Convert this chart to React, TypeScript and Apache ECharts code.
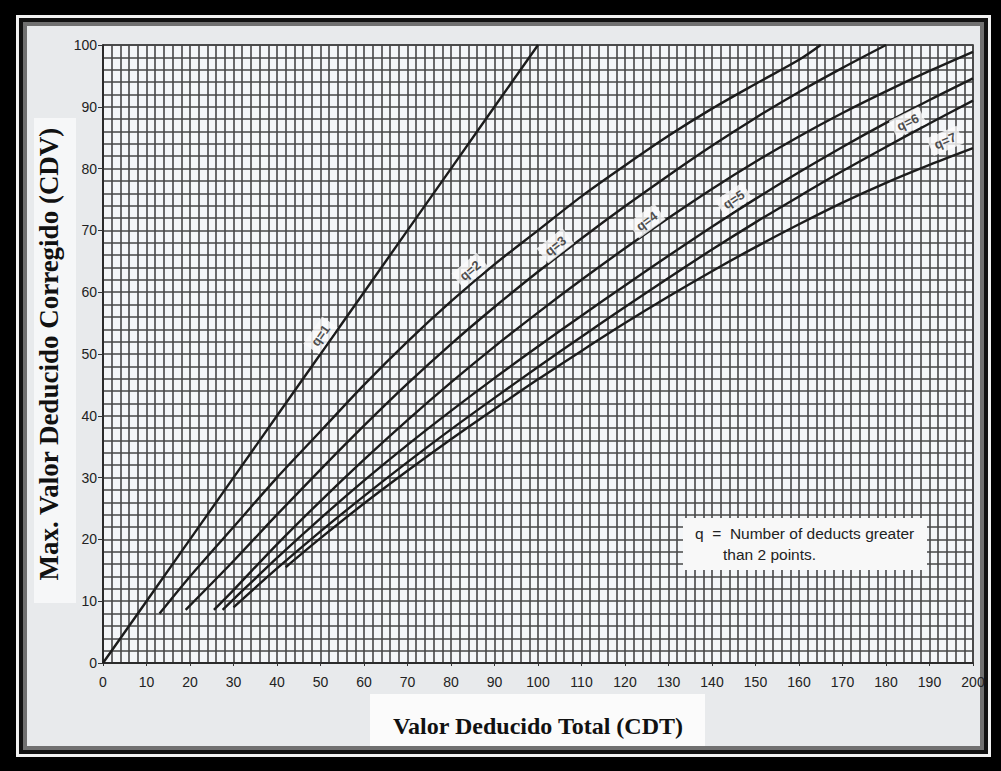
import React, { useEffect, useRef } from "react";
import * as echarts from "echarts";

// Curves: [TDV, CDV]
const q1: number[][] = [[0, 0], [10, 10], [20, 20], [30, 30], [40, 40], [50, 50], [60, 60], [70, 70], [80, 80], [90, 90], [100, 100]];
const q2: number[][] = [[13, 8], [20, 14], [30, 22], [40, 30], [50, 37.5], [60, 45], [70, 52], [80, 58.5], [90, 64.5], [100, 70], [110, 75.5], [120, 80.5], [130, 85.3], [140, 89.7], [150, 93.7], [160, 97.6], [165, 100]];
const q3: number[][] = [[19, 8.6], [30, 16.5], [40, 24], [50, 31.3], [60, 38.4], [70, 45.2], [80, 51.6], [90, 57.6], [100, 63.3], [110, 68.7], [120, 73.9], [130, 78.9], [140, 83.7], [150, 88.2], [160, 92.4], [170, 96.3], [180, 100]];
const q4: number[][] = [[25.5, 8.6], [30, 11.8], [40, 19.2], [50, 26.2], [60, 32.9], [70, 39.3], [80, 45.4], [90, 51.2], [100, 56.7], [110, 62], [120, 67.1], [130, 72], [140, 76.7], [150, 81.1], [160, 85.2], [170, 89], [180, 92.5], [190, 95.8], [200, 98.9]];
const q5: number[][] = [[27.5, 8.6], [30, 10.3], [40, 17], [50, 23.4], [60, 29.5], [70, 35.3], [80, 40.8], [90, 46.1], [100, 51.2], [110, 56.2], [120, 61.1], [130, 65.9], [140, 70.6], [150, 75.1], [160, 79.4], [170, 83.5], [180, 87.4], [190, 91.1], [200, 94.6]];
const q6: number[][] = [[30, 9], [40, 15.3], [50, 21.3], [60, 27], [70, 32.5], [80, 37.8], [90, 42.9], [100, 47.9], [110, 52.8], [120, 57.6], [130, 62.3], [140, 66.9], [150, 71.3], [160, 75.5], [170, 79.6], [180, 83.5], [190, 87.3], [200, 91]];
const q7: number[][] = [[42, 15.5], [50, 20.2], [60, 25.8], [70, 31.1], [80, 36.2], [90, 41.1], [100, 45.9], [110, 50.5], [120, 55], [130, 59.3], [140, 63.4], [150, 67.3], [160, 71], [170, 74.5], [180, 77.7], [190, 80.6], [200, 83.3]];

const curveNames = ["q=1", "q=2", "q=3", "q=4", "q=5", "q=6", "q=7"];
const curves = [q1, q2, q3, q4, q5, q6, q7];
// label anchor points near the curves (data coordinates)
const labelPoints: number[][] = [[50, 53], [84.4, 63.5], [104, 67.5], [125, 71.5], [145, 75], [185, 87.5], [193.6, 84.5]];

const xTitle = "Valor Deducido Total (CDT)";
const yTitle = "Max. Valor Deducido Corregido (CDV)";
const noteLines = ["q  =  Number of deducts greater", "than 2 points."];

export default function App() {
  const ref = useRef<HTMLDivElement>(null);
  useEffect(() => {
    if (!ref.current) return;
    const chart = echarts.init(ref.current, null, { renderer: "svg" });
    const gridLine = { color: "#474747", width: 1.6 };
    const labelAngles = [55, 40, 38, 36, 34, 26, 23];
    const option: any = {
      animation: false,
      backgroundColor: "#000",
      grid: {
        left: 103, right: 28, top: 45, bottom: 108,
        show: true, backgroundColor: "#f4f6f8", borderColor: "#222", borderWidth: 1.5,
      },
      xAxis: {
        type: "value", min: 0, max: 200, interval: 10, z: 2,
        name: xTitle, nameLocation: "middle", nameGap: 51,
        nameTextStyle: { fontFamily: "Liberation Serif", fontWeight: "bold", fontSize: 24, color: "#111" },
        axisLine: { show: true, lineStyle: { color: "#222", width: 1.5 } },
        axisTick: { show: true, length: 3, lineStyle: { color: "#333" } },
        axisLabel: { fontFamily: "Liberation Sans", fontSize: 14, color: "#222", margin: 12 },
        splitLine: { show: true, lineStyle: gridLine },
        minorTick: { show: false, splitNumber: 5 },
        minorSplitLine: { show: true, lineStyle: gridLine },
      },
      yAxis: {
        type: "value", min: 0, max: 100, interval: 10, z: 2,
        name: yTitle, nameLocation: "middle", nameGap: 40, nameRotate: 90,
        nameTextStyle: { fontFamily: "Liberation Serif", fontWeight: "bold", fontSize: 27, color: "#111" },
        axisLine: { show: true, lineStyle: { color: "#222", width: 1.5 } },
        axisTick: { show: true, length: 5, lineStyle: { color: "#333" } },
        axisLabel: { fontFamily: "Liberation Sans", fontSize: 14, color: "#222", margin: 6 },
        splitLine: { show: true, lineStyle: gridLine },
        minorTick: { show: false, splitNumber: 5 },
        minorSplitLine: { show: true, lineStyle: gridLine },
      },
      series: [
        ...curves.map((d, i) => ({
          type: "line", name: curveNames[i], data: d, smooth: i === 0 ? false : 0.3, showSymbol: false, z: 3,
          lineStyle: { color: "#1c1c1c", width: 2.4 },
        })),
        {
          type: "scatter", symbolSize: 0.1, z: 5,
          data: labelPoints.map((p, i) => ({
            value: p,
            label: {
              show: true, position: "inside", rotate: labelAngles[i], formatter: curveNames[i],
              backgroundColor: "#fbfbfb", padding: [3, 5], color: "#222",
              fontFamily: "Liberation Sans", fontSize: 13, fontWeight: "bold",
            },
          })),
        },
      ],
      graphic: [
        { type: "rect", z: -5, shape: { x: 16, y: 15, width: 975, height: 742 }, style: { fill: "#f2f2f2" } },
        { type: "rect", z: -4, shape: { x: 19, y: 18, width: 969, height: 736 }, style: { fill: "#111" } },
        { type: "rect", z: -3, shape: { x: 23, y: 22, width: 961, height: 728 }, style: { fill: "#707070" } },
        { type: "rect", z: -2, shape: { x: 27, y: 26, width: 953, height: 720 }, style: { fill: "#e8eaec" } },
        { type: "rect", z: -1, shape: { x: 370, y: 694, width: 335, height: 52 }, style: { fill: "#fbfbfb" } },
        { type: "rect", z: -1, shape: { x: 34, y: 118, width: 42, height: 485 }, style: { fill: "#f6f7f8" } },
        { type: "rect", z: 10, shape: { x: 683, y: 518, width: 244, height: 52 }, style: { fill: "#f8f8f8" } },
        { type: "text", z: 11, style: { text: noteLines[0], x: 695, y: 533, fontSize: 15.5, fontFamily: "Liberation Sans", fill: "#222", verticalAlign: "middle" } },
        { type: "text", z: 11, style: { text: noteLines[1], x: 723, y: 554, fontSize: 15.5, fontFamily: "Liberation Sans", fill: "#222", verticalAlign: "middle" } },
      ],
    };
    chart.setOption(option);
    return () => chart.dispose();
  }, []);
  return <div ref={ref} style={{ position: "fixed", left: 0, top: 0, width: 1001, height: 771 }} />;
}
